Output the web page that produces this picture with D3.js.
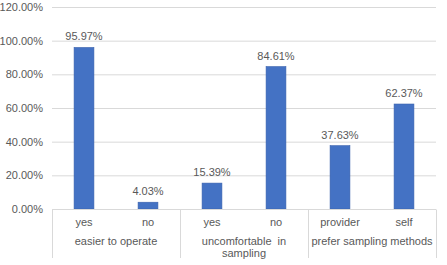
<!DOCTYPE html>
<html>
<head>
<meta charset="utf-8">
<script src="https://cdn.jsdelivr.net/npm/d3@7"></script>
<style>
  body { margin: 0; background: #fff; }
  text { font-family: "Liberation Sans", Arial, sans-serif; fill: #595959; }
</style>
</head>
<body>
<div id="chart"></div>
<script>
// data
const groups = ["easier to operate", "uncomfortable  in|sampling", "prefer sampling methods"];
const answers = ["yes", "no", "yes", "no", "provider", "self"];
const values = [95.97, 4.03, 15.39, 84.61, 37.63, 62.37];
const yTicks = [0, 20, 40, 60, 80, 100, 120];

const width = 447, height = 265;
const margin = { left: 52, right: 11, top: 7, bottom: 56 };

const svg = d3.select("#chart").append("svg")
  .attr("width", width)
  .attr("height", height);

const x = d3.scaleBand()
  .domain(d3.range(answers.length))
  .range([margin.left, width - margin.right])
  .paddingInner(0.69)
  .paddingOuter(0.345);

const y = d3.scaleLinear()
  .domain([0, 120])
  .range([height - margin.bottom, margin.top]);

// gridlines
svg.append("g")
  .selectAll("line")
  .data(yTicks.slice(1))
  .enter().append("line")
  .attr("x1", margin.left)
  .attr("x2", width - margin.right)
  .attr("y1", d => y(d) + 0.5)
  .attr("y2", d => y(d) + 0.5)
  .attr("stroke", "#d9d9d9");

// y labels
svg.append("g")
  .selectAll("text")
  .data(yTicks)
  .enter().append("text")
  .attr("x", margin.left - 9)
  .attr("y", d => y(d))
  .attr("dy", "0.35em")
  .attr("text-anchor", "end")
  .style("font-size", "11px")
  .text(d => d.toFixed(2) + "%");

// bars
svg.append("g")
  .selectAll("rect")
  .data(values)
  .enter().append("rect")
  .attr("x", (d, i) => x(i))
  .attr("width", x.bandwidth())
  .attr("y", d => y(d))
  .attr("height", d => y(0) - y(d))
  .attr("fill", "#4472c4")
  .attr("stroke", "#3a62ad")
  .attr("stroke-width", 0.6);

// value labels
svg.append("g")
  .selectAll("text")
  .data(values)
  .enter().append("text")
  .attr("x", (d, i) => x(i) + x.bandwidth() / 2)
  .attr("y", d => y(d) - 7)
  .attr("text-anchor", "middle")
  .style("font-size", "11px")
  .text(d => d.toFixed(2) + "%");

// axis line + group separators
const axisY = y(0) + 0.5;
svg.append("line")
  .attr("x1", margin.left).attr("x2", width - margin.right)
  .attr("y1", axisY).attr("y2", axisY)
  .attr("stroke", "#d9d9d9");

const groupW = (width - margin.right - margin.left) / groups.length;
svg.append("g")
  .selectAll("line")
  .data(d3.range(groups.length + 1))
  .enter().append("line")
  .attr("x1", i => Math.round(margin.left + i * groupW) + 0.5)
  .attr("x2", i => Math.round(margin.left + i * groupW) + 0.5)
  .attr("y1", axisY)
  .attr("y2", 258)
  .attr("stroke", "#d9d9d9");

// answer labels
svg.append("g")
  .selectAll("text")
  .data(answers)
  .enter().append("text")
  .attr("x", (d, i) => x(i) + x.bandwidth() / 2)
  .attr("y", 226)
  .attr("text-anchor", "middle")
  .style("font-size", "11px")
  .text(d => d);

// group labels
const gl = svg.append("g")
  .selectAll("text")
  .data(groups)
  .enter().append("text")
  .attr("x", (d, i) => margin.left + (i + 0.5) * groupW)
  .attr("y", 245)
  .attr("text-anchor", "middle")
  .style("font-size", "11px")
  .style("white-space", "pre");

gl.selectAll("tspan")
  .data(d => d.split("|"))
  .enter().append("tspan")
  .attr("x", function () { return d3.select(this.parentNode).attr("x"); })
  .attr("dy", (d, i) => i === 0 ? 0 : 12)
  .text(d => d);
</script>
</body>
</html>
